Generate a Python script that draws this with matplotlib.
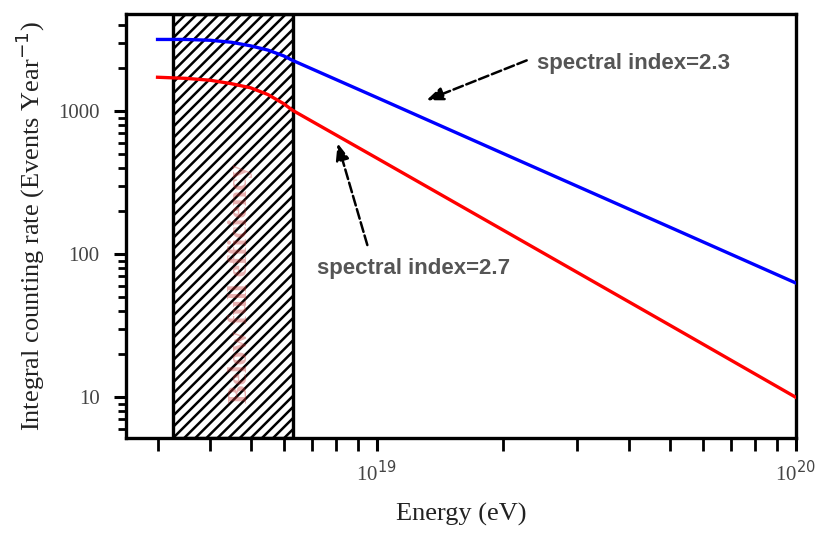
import matplotlib as mplt
mplt.use("Agg")
import matplotlib.pyplot as plt
from matplotlib.patches import Rectangle

# energies (eV)
energy = [3.0e18, 3.5e18, 4.0e18, 4.5e18, 5.0e18, 5.5e18, 6.0e18, 6.3e18,
          1.0e19, 2.0e19, 5.0e19, 1.0e20]
# integral counting rate, events per year
rate_23 = [3180, 3180, 3140, 3040, 2870, 2680, 2440, 2270, 1250, 508, 155, 63]
rate_27 = [1730, 1700, 1650, 1560, 1460, 1310, 1130, 1016, 471, 148, 32, 10]

# region below full efficiency
band_lo = 3.26e18
band_hi = 6.3e18

x_lim = (2.52e18, 1.0e20)
y_lim = (5.2, 4800)
y_ticks = [10, 100, 1000]
y_ticklabels = ["10", "100", "1000"]
x_ticks = [1e19, 1e20]
x_ticklabels = ["10$^{19}$", "10$^{20}$"]

serif = ["Liberation Serif", "DejaVu Serif"]
sans = ["Liberation Sans", "DejaVu Sans"]
plt.rcParams["hatch.linewidth"] = 1.8

fig = plt.figure(figsize=(8.17, 5.34), dpi=100)
ax = fig.add_axes([0.154, 0.180, 0.820, 0.794])

ax.set_xscale("log")
ax.set_yscale("log")
ax.set_xlim(*x_lim)
ax.set_ylim(*y_lim)

# hatched band
ax.add_patch(Rectangle((band_lo, y_lim[0]), band_hi - band_lo, y_lim[1] - y_lim[0],
                       facecolor="white", edgecolor="black", hatch="///",
                       linewidth=2.4, zorder=1))
ax.text(4.73e18, 63, "Below full efficiency",
        rotation=90, color="#c03030", alpha=0.38, fontsize=20,
        family=serif, fontweight="bold", ha="center", va="center", zorder=2)

# spectra
ax.plot(energy, rate_23, color="blue", linewidth=2.4, zorder=3)
ax.plot(energy, rate_27, color="red", linewidth=2.4, zorder=3)

# annotations
arrow = dict(arrowstyle="-|>,head_length=1.0,head_width=0.4",
             color="black", lw=1.8, linestyle=(0, (4, 1.5)),
             shrinkA=0, shrinkB=0)
ax.text(2.41e19, 2170, "spectral index=2.3", fontsize=16, fontweight="bold",
        color="#555555", family=sans, va="center", ha="left")
ax.annotate("", xy=(1.315e19, 1194), xytext=(2.28e19, 2270), arrowprops=arrow)
ax.text(7.2e18, 80, "spectral index=2.7", fontsize=16, fontweight="bold",
        color="#555555", family=sans, va="center", ha="left")
ax.annotate("", xy=(8.07e18, 597), xytext=(9.5e18, 116), arrowprops=arrow)

# axes style
for s in ax.spines.values():
    s.set_linewidth(2.4)
ax.set_yticks(y_ticks)
ax.set_yticklabels(y_ticklabels, family=serif, fontsize=15, color="#444444")
ax.set_xticks(x_ticks)
ax.set_xticklabels(x_ticklabels, family=serif, fontsize=15, color="#444444")
ax.tick_params(which="major", direction="out", length=9, width=2.2, pad=10)
ax.tick_params(which="minor", direction="out", length=6, width=2.0)
ax.tick_params(axis="x", which="minor", length=9)
ax.tick_params(axis="x", which="major", pad=8)
ax.xaxis.set_minor_formatter(mplt.ticker.NullFormatter())
ax.yaxis.set_minor_formatter(mplt.ticker.NullFormatter())

ax.set_xlabel("Energy (eV)", family=serif, fontsize=19, color="#222222",
              labelpad=12)
ax.set_ylabel("Integral counting rate (Events Year$^{-1}$)", family=serif,
              fontsize=19, color="#222222", labelpad=8)

plt.savefig("out.png", dpi=100)
